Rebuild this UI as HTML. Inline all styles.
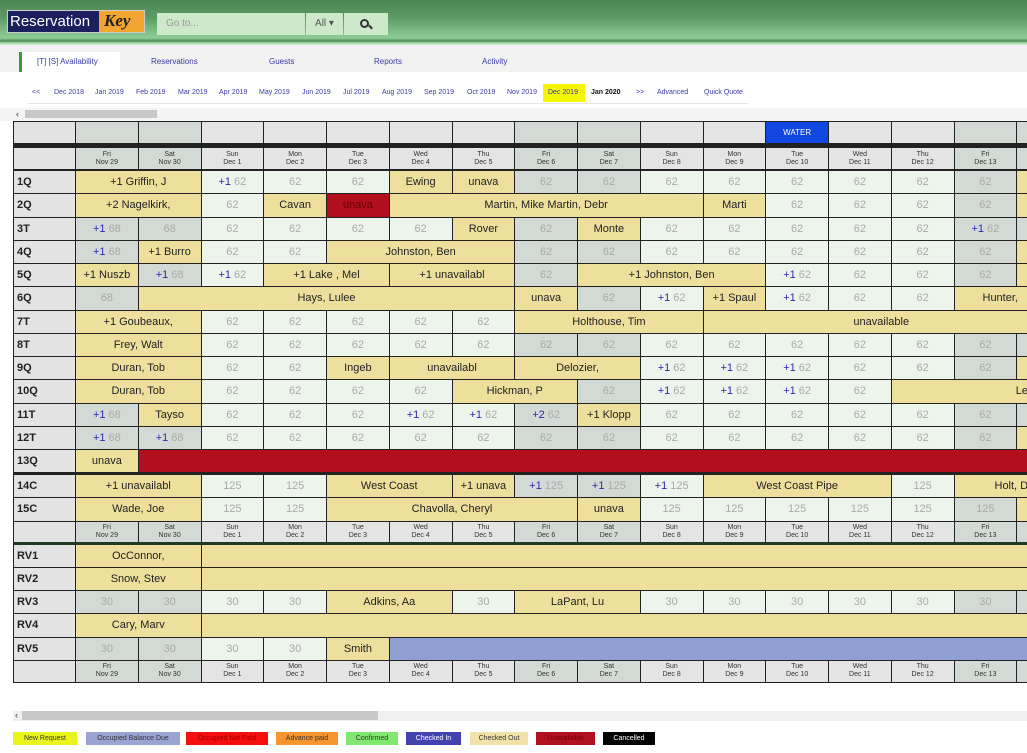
<!DOCTYPE html>
<html><head><meta charset="utf-8"><style>
*{box-sizing:border-box;margin:0;padding:0}
body{width:1027px;height:753px;overflow:hidden;background:#fff;font-family:"Liberation Sans",Arial,sans-serif;position:relative}
.top{position:absolute;left:0;top:0;width:1027px;height:45px;background:linear-gradient(#4a8553 0px,#5e9a66 18px,#8fcd97 38px,#4e8a57 41px,#a6dcaa 43px,#cfeed0 45px)}
.logo{position:absolute;left:7px;top:10px;width:138px;height:23px;background:#1a1f5e;border:1px solid #ccc;overflow:hidden}
.logo span{position:absolute;left:2px;top:2px;color:#fff;font-size:15px}
.logo i{position:absolute;right:0;top:0;width:45px;height:23px;background:#f2a531;color:#222;font-size:17px;font-family:"Liberation Serif",serif;font-weight:bold;padding-left:5px}
.sb{position:absolute;top:13px;height:22px;background:#cce9c9;font-size:10px;color:#999;line-height:22px}
.tabs{position:absolute;left:0;top:45px;width:1027px;height:27px;background:#f2f2f2}
.tab{position:absolute;top:12px;font-size:8px;color:#3a3aa6}
.mn{position:absolute;top:89px;font-size:7px;color:#3a3aa6}
.grid{position:absolute;left:13px;top:121px;width:1100px}
.row{display:grid;grid-template-columns:63px repeat(16,62.75px);height:23.25px;border-bottom:1px solid #222}
.row>div{border-right:1px solid #222;display:flex;align-items:center;justify-content:center;font-size:11px;color:#222;white-space:nowrap;overflow:hidden}
.row>div:first-child{border-left:1px solid #222;justify-content:flex-start;padding-left:3px;font-weight:bold;background:#e3e3e3;font-size:11px}
.y{background:#efdf9c}.e{background:#edf4ec;color:#aaa!important}.w{background:#d3d9d4;color:#aaa!important}
.r{background:#b10f1e}.b{background:#8f9fd2}
.p{color:#2a2ab0;margin-right:3px}
.hd>div{font-size:7px!important;line-height:8px;text-align:center;flex-direction:column;background:#e4e4e4;color:#333!important}
.hd>div.ww{background:#d3d9d4}
.lg{position:absolute;top:732px;height:13px;font-size:7px;line-height:13px;text-align:center;color:#333}
</style></head><body>
<div class="top">
<div class="logo"><span>Reservation</span><i>Key</i></div>
<div class="sb" style="left:157px;width:148px;padding-left:9px">Go to...</div>
<div class="sb" style="left:306px;width:37px;text-align:center;color:#555">All ▾</div>
<div class="sb" style="left:344px;width:44px"><div style="position:absolute;left:16px;top:6px;width:9px;height:9px;border:2px solid #333;border-radius:50%"></div><div style="position:absolute;left:24px;top:13px;width:5px;height:2px;background:#333;transform:rotate(45deg)"></div></div>
</div>
<div class="tabs">
<div style="position:absolute;left:19px;top:7px;width:3px;height:20px;background:#3a9a3a"></div>
<div style="position:absolute;left:22px;top:7px;width:98px;height:20px;background:#fff"></div>
<div class="tab" style="left:37px">[T] [S] Availability</div>
<div class="tab" style="left:151px">Reservations</div>
<div class="tab" style="left:269px">Guests</div>
<div class="tab" style="left:374px">Reports</div>
<div class="tab" style="left:482px">Activity</div>
</div>
<div style="position:absolute;left:543px;top:84px;width:42px;height:18px;background:#f5f500"></div>
<div class="mn" style="left:32px">&lt;&lt;</div>
<div class="mn" style="left:54px">Dec 2018</div>
<div class="mn" style="left:95px">Jan 2019</div>
<div class="mn" style="left:136px">Feb 2019</div>
<div class="mn" style="left:178px">Mar 2019</div>
<div class="mn" style="left:219px">Apr 2019</div>
<div class="mn" style="left:259px">May 2019</div>
<div class="mn" style="left:302px">Jun 2019</div>
<div class="mn" style="left:343px">Jul 2019</div>
<div class="mn" style="left:382px">Aug 2019</div>
<div class="mn" style="left:424px">Sep 2019</div>
<div class="mn" style="left:467px">Oct 2019</div>
<div class="mn" style="left:507px">Nov 2019</div>
<div class="mn" style="left:548px">Dec 2019</div>
<div class="mn" style="left:591px;color:#111;font-weight:bold">Jan 2020</div>
<div class="mn" style="left:636px">&gt;&gt;</div>
<div class="mn" style="left:657px">Advanced</div>
<div class="mn" style="left:704px">Quick Quote</div>
<div style="position:absolute;left:28px;top:103px;width:720px;height:1px;background:#e4e4e4"></div>
<div style="position:absolute;left:0;top:108px;width:1027px;height:13px;background:#f4f4f4"></div>
<div style="position:absolute;left:16px;top:109px;font-size:9px;color:#333">&lsaquo;</div>
<div style="position:absolute;left:25px;top:110px;width:132px;height:8px;background:#c8c8c8"></div>

<div class="grid">
<div class="row hd" style="height:27px;border-bottom:5px solid #222;border-top:1px solid #222"><div></div><div class="ww"></div><div class="ww"></div><div></div><div></div><div></div><div></div><div></div><div class="ww"></div><div class="ww"></div><div></div><div></div><div style="background:#1146e0;color:#fff!important;font-size:8px!important">WATER</div><div></div><div></div><div class="ww"></div><div class="ww"></div></div>
<div class="row hd" style="height:23px;border-bottom:2px solid #222"><div></div><div class="ww">Fri<br>Nov 29</div><div class="ww">Sat<br>Nov 30</div><div>Sun<br>Dec 1</div><div>Mon<br>Dec 2</div><div>Tue<br>Dec 3</div><div>Wed<br>Dec 4</div><div>Thu<br>Dec 5</div><div class="ww">Fri<br>Dec 6</div><div class="ww">Sat<br>Dec 7</div><div>Sun<br>Dec 8</div><div>Mon<br>Dec 9</div><div>Tue<br>Dec 10</div><div>Wed<br>Dec 11</div><div>Thu<br>Dec 12</div><div class="ww">Fri<br>Dec 13</div><div class="ww">Sat<br>Dec 14</div></div>

<div class="row"><div>1Q</div><div class="y" style="grid-column:span 2"><span class="p" style="color:#222">+1</span>Griffin, J</div><div class="e"><span class="p">+1</span>62</div><div class="e">62</div><div class="e">62</div><div class="y">Ewing</div><div class="y">unava</div><div class="w">62</div><div class="w">62</div><div class="e">62</div><div class="e">62</div><div class="e">62</div><div class="e">62</div><div class="e">62</div><div class="w">62</div><div class="y"></div></div>
<div class="row"><div>2Q</div><div class="y" style="grid-column:span 2"><span class="p" style="color:#222">+2</span>Nagelkirk,</div><div class="e">62</div><div class="y">Cavan</div><div class="r" style="color:#600">unava</div><div class="y" style="grid-column:span 5">Martin, Mike Martin, Debr</div><div class="y">Marti</div><div class="e">62</div><div class="e">62</div><div class="e">62</div><div class="w">62</div><div class="y"></div></div>
<div class="row"><div>3T</div><div class="w"><span class="p">+1</span>68</div><div class="w">68</div><div class="e">62</div><div class="e">62</div><div class="e">62</div><div class="e">62</div><div class="y">Rover</div><div class="w">62</div><div class="y">Monte</div><div class="e">62</div><div class="e">62</div><div class="e">62</div><div class="e">62</div><div class="e">62</div><div class="w"><span class="p">+1</span>62</div><div class="w"></div></div>
<div class="row"><div>4Q</div><div class="w"><span class="p">+1</span>68</div><div class="y"><span class="p" style="color:#222">+1</span>Burro</div><div class="e">62</div><div class="e">62</div><div class="y" style="grid-column:span 3">Johnston, Ben</div><div class="w">62</div><div class="w">62</div><div class="e">62</div><div class="e">62</div><div class="e">62</div><div class="e">62</div><div class="e">62</div><div class="w">62</div><div class="y"></div></div>
<div class="row"><div>5Q</div><div class="y"><span class="p" style="color:#222">+1</span>Nuszb</div><div class="w"><span class="p">+1</span>68</div><div class="e"><span class="p">+1</span>62</div><div class="y" style="grid-column:span 2">+1 Lake , Mel</div><div class="y" style="grid-column:span 2">+1 unavailabl</div><div class="w">62</div><div class="y" style="grid-column:span 3">+1 Johnston, Ben</div><div class="e"><span class="p">+1</span>62</div><div class="e">62</div><div class="e">62</div><div class="w">62</div><div class="y"></div></div>
<div class="row"><div>6Q</div><div class="w">68</div><div class="y" style="grid-column:span 6">Hays, Lulee</div><div class="y">unava</div><div class="w">62</div><div class="e"><span class="p">+1</span>62</div><div class="y"><span class="p" style="color:#222">+1</span>Spaul</div><div class="e"><span class="p">+1</span>62</div><div class="e">62</div><div class="e">62</div><div class="y" style="grid-column:span 2;justify-content:flex-start;padding-left:28px">Hunter,</div></div>
<div class="row"><div>7T</div><div class="y" style="grid-column:span 2">+1 Goubeaux,</div><div class="e">62</div><div class="e">62</div><div class="e">62</div><div class="e">62</div><div class="e">62</div><div class="y" style="grid-column:span 3">Holthouse, Tim</div><div class="y" style="grid-column:span 6;padding-right:20px">unavailable</div></div>
<div class="row"><div>8T</div><div class="y" style="grid-column:span 2">Frey, Walt</div><div class="e">62</div><div class="e">62</div><div class="e">62</div><div class="e">62</div><div class="e">62</div><div class="w">62</div><div class="w">62</div><div class="e">62</div><div class="e">62</div><div class="e">62</div><div class="e">62</div><div class="e">62</div><div class="w">62</div><div class="w"></div></div>
<div class="row"><div>9Q</div><div class="y" style="grid-column:span 2">Duran, Tob</div><div class="e">62</div><div class="e">62</div><div class="y">Ingeb</div><div class="y" style="grid-column:span 2">unavailabl</div><div class="y" style="grid-column:span 2">Delozier,</div><div class="e"><span class="p">+1</span>62</div><div class="e"><span class="p">+1</span>62</div><div class="e"><span class="p">+1</span>62</div><div class="e">62</div><div class="e">62</div><div class="w">62</div><div class="y"></div></div>
<div class="row"><div>10Q</div><div class="y" style="grid-column:span 2">Duran, Tob</div><div class="e">62</div><div class="e">62</div><div class="e">62</div><div class="e">62</div><div class="y" style="grid-column:span 2">Hickman, P</div><div class="w">62</div><div class="e"><span class="p">+1</span>62</div><div class="e"><span class="p">+1</span>62</div><div class="e"><span class="p">+1</span>62</div><div class="e">62</div><div class="y" style="grid-column:span 3;justify-content:flex-start;padding-left:124px">Lenz</div></div>
<div class="row"><div>11T</div><div class="w"><span class="p">+1</span>68</div><div class="y">Tayso</div><div class="e">62</div><div class="e">62</div><div class="e">62</div><div class="e"><span class="p">+1</span>62</div><div class="e"><span class="p">+1</span>62</div><div class="w"><span class="p">+2</span>62</div><div class="y"><span class="p" style="color:#222">+1</span>Klopp</div><div class="e">62</div><div class="e">62</div><div class="e">62</div><div class="e">62</div><div class="e">62</div><div class="w">62</div><div class="w"></div></div>
<div class="row"><div>12T</div><div class="w"><span class="p">+1</span>68</div><div class="w"><span class="p">+1</span>68</div><div class="e">62</div><div class="e">62</div><div class="e">62</div><div class="e">62</div><div class="e">62</div><div class="w">62</div><div class="w">62</div><div class="e">62</div><div class="e">62</div><div class="e">62</div><div class="e">62</div><div class="e">62</div><div class="w">62</div><div class="y"></div></div>
<div class="row" style="border-bottom:3px solid #222;height:25px"><div>13Q</div><div class="y">unava</div><div class="r" style="grid-column:span 15"></div></div>
<div class="row"><div>14C</div><div class="y" style="grid-column:span 2">+1 unavailabl</div><div class="e">125</div><div class="e">125</div><div class="y" style="grid-column:span 2">West Coast</div><div class="y">+1 unava</div><div class="w"><span class="p">+1</span>125</div><div class="w"><span class="p">+1</span>125</div><div class="e"><span class="p">+1</span>125</div><div class="y" style="grid-column:span 3">West Coast Pipe</div><div class="e">125</div><div class="y" style="grid-column:span 2;justify-content:flex-start;padding-left:40px">Holt, Dav</div></div>
<div class="row"><div>15C</div><div class="y" style="grid-column:span 2">Wade, Joe</div><div class="e">125</div><div class="e">125</div><div class="y" style="grid-column:span 4">Chavolla, Cheryl</div><div class="y">unava</div><div class="e">125</div><div class="e">125</div><div class="e">125</div><div class="e">125</div><div class="e">125</div><div class="w">125</div><div class="y"></div></div>
<div class="row hd" style="height:23px;border-bottom:3px solid #1e3a22"><div></div><div class="ww">Fri<br>Nov 29</div><div class="ww">Sat<br>Nov 30</div><div>Sun<br>Dec 1</div><div>Mon<br>Dec 2</div><div>Tue<br>Dec 3</div><div>Wed<br>Dec 4</div><div>Thu<br>Dec 5</div><div class="ww">Fri<br>Dec 6</div><div class="ww">Sat<br>Dec 7</div><div>Sun<br>Dec 8</div><div>Mon<br>Dec 9</div><div>Tue<br>Dec 10</div><div>Wed<br>Dec 11</div><div>Thu<br>Dec 12</div><div class="ww">Fri<br>Dec 13</div><div class="ww">Sat<br>Dec 14</div></div>
<div class="row"><div>RV1</div><div class="y" style="grid-column:span 2">OcConnor,</div><div class="y" style="grid-column:span 14"></div></div>
<div class="row"><div>RV2</div><div class="y" style="grid-column:span 2">Snow, Stev</div><div class="y" style="grid-column:span 14"></div></div>
<div class="row"><div>RV3</div><div class="w">30</div><div class="w">30</div><div class="e">30</div><div class="e">30</div><div class="y" style="grid-column:span 2">Adkins, Aa</div><div class="e">30</div><div class="y" style="grid-column:span 2">LaPant, Lu</div><div class="e">30</div><div class="e">30</div><div class="e">30</div><div class="e">30</div><div class="e">30</div><div class="w">30</div><div class="w"></div></div>
<div class="row"><div>RV4</div><div class="y" style="grid-column:span 2">Cary, Marv</div><div class="y" style="grid-column:span 14"></div></div>
<div class="row"><div>RV5</div><div class="w">30</div><div class="w">30</div><div class="e">30</div><div class="e">30</div><div class="y">Smith</div><div class="b" style="grid-column:span 11"></div></div>
<div class="row hd" style="height:22px"><div></div><div class="ww">Fri<br>Nov 29</div><div class="ww">Sat<br>Nov 30</div><div>Sun<br>Dec 1</div><div>Mon<br>Dec 2</div><div>Tue<br>Dec 3</div><div>Wed<br>Dec 4</div><div>Thu<br>Dec 5</div><div class="ww">Fri<br>Dec 6</div><div class="ww">Sat<br>Dec 7</div><div>Sun<br>Dec 8</div><div>Mon<br>Dec 9</div><div>Tue<br>Dec 10</div><div>Wed<br>Dec 11</div><div>Thu<br>Dec 12</div><div class="ww">Fri<br>Dec 13</div><div class="ww">Sat<br>Dec 14</div></div>
</div>

<div style="position:absolute;left:13px;top:711px;width:1014px;height:10px;background:#f0f0f0"></div>
<div style="position:absolute;left:15px;top:710px;font-size:9px;color:#333">&lsaquo;</div>
<div style="position:absolute;left:22px;top:711px;width:356px;height:9px;background:#c8c8c8"></div>
<div class="lg" style="left:13px;width:64px;background:#eaf51c">New Request</div>
<div class="lg" style="left:86px;width:94px;background:#9aa4d2">Occupied Balance Due</div>
<div class="lg" style="left:186px;width:82px;background:#f60f0f;color:#900">Occupied Not Paid</div>
<div class="lg" style="left:276px;width:62px;background:#f7952e">Advance paid</div>
<div class="lg" style="left:346px;width:52px;background:#80e86c">Confirmed</div>
<div class="lg" style="left:406px;width:55px;background:#4343b0;color:#fff">Checked In</div>
<div class="lg" style="left:470px;width:58px;background:#f0e2a8">Checked Out</div>
<div class="lg" style="left:536px;width:59px;background:#b01020;color:#700">Unavailable</div>
<div class="lg" style="left:603px;width:52px;background:#000;color:#fff">Cancelled</div>
</body></html>
